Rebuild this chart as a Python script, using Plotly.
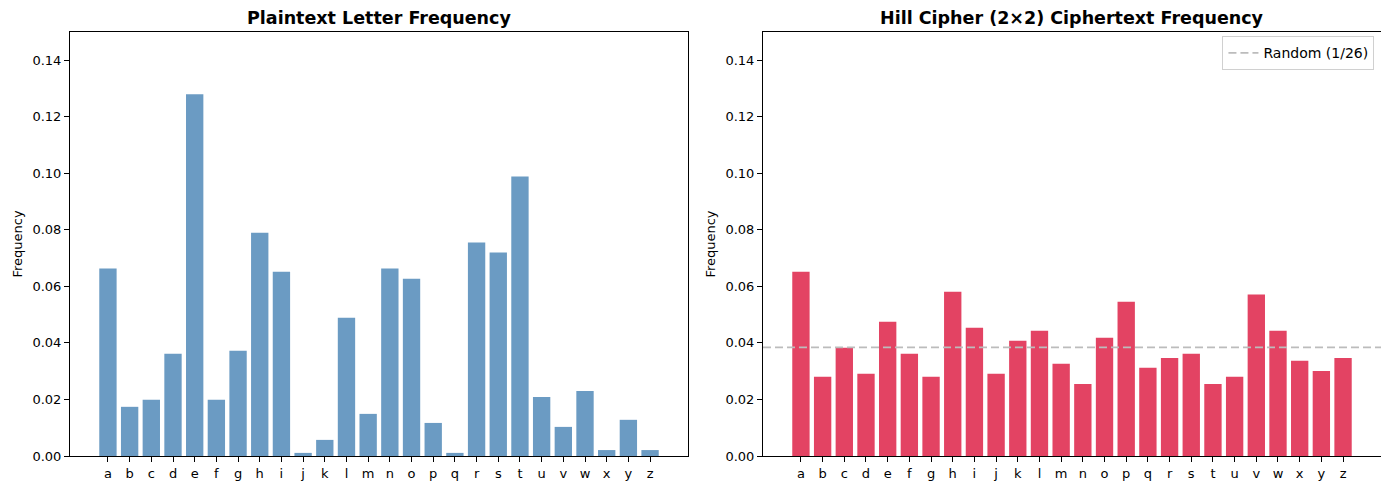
import plotly.graph_objects as go
from plotly.subplots import make_subplots

letters = list("abcdefghijklmnopqrstuvwxyz")
plain_freq = [0.0663, 0.0174, 0.0199, 0.0362, 0.1280, 0.0199, 0.0372, 0.0790, 0.0652,
              0.0011, 0.0057, 0.0489, 0.0149, 0.0663, 0.0627, 0.0117, 0.0011, 0.0755,
              0.0720, 0.0989, 0.0209, 0.0103, 0.0230, 0.0021, 0.0128, 0.0021]
cipher_freq = [0.0652, 0.0280, 0.0383, 0.0291, 0.0475, 0.0362, 0.0280, 0.0581, 0.0454,
               0.0291, 0.0408, 0.0443, 0.0326, 0.0255, 0.0418, 0.0546, 0.0312, 0.0347,
               0.0362, 0.0255, 0.0280, 0.0571, 0.0443, 0.0337, 0.0301, 0.0347]
random_level = 1 / 26
y_ticks = [0.00, 0.02, 0.04, 0.06, 0.08, 0.10, 0.12, 0.14]

FONT = "DejaVu Sans"
fig = make_subplots(rows=1, cols=2, horizontal_spacing=0.0572)

xs = list(range(len(letters)))
fig.add_trace(go.Bar(x=xs, y=plain_freq, width=0.8, marker_color="#6b9bc3",
                     marker_line_width=0, showlegend=False), row=1, col=1)
fig.add_trace(go.Bar(x=xs, y=cipher_freq, width=0.8, marker_color="#e34363",
                     marker_line_width=0, showlegend=False), row=1, col=2)
fig.add_trace(go.Scatter(x=[-1.75, 26.75], y=[random_level, random_level], mode="lines",
                         line=dict(color="#bcbcbc", width=1.7, dash="8px,4px"),
                         name="Random (1/26)", showlegend=True), row=1, col=2)

axis_common = dict(showline=True, linecolor="black", linewidth=1, mirror=True,
                   ticks="outside", ticklen=5, tickcolor="black", showgrid=False,
                   zeroline=False, tickfont=dict(family=FONT, size=13, color="black"))
for c in (1, 2):
    fig.update_xaxes(range=[-1.75, 26.75], tickmode="array", tickvals=xs, ticktext=letters,
                     row=1, col=c, **axis_common)
    fig.update_yaxes(range=[0, 0.15], tickmode="array", tickvals=y_ticks,
                     ticktext=[f"{v:.2f}" for v in y_ticks],
                     title=dict(text="Frequency", font=dict(family=FONT, size=13, color="black"),
                                standoff=6),
                     row=1, col=c, **axis_common)

fig.add_annotation(text="<b>Plaintext Letter Frequency</b>", xref="x domain", yref="paper",
                   x=0.5, y=1, yshift=2, yanchor="bottom", showarrow=False,
                   font=dict(family=FONT, size=17.5, color="black"))
fig.add_annotation(text="<b>Hill Cipher (2×2) Ciphertext Frequency</b>", xref="x2 domain",
                   yref="paper", x=0.5, y=1, yshift=2, yanchor="bottom", showarrow=False,
                   font=dict(family=FONT, size=17.5, color="black"))

fig.update_layout(
    width=1381, height=482,
    margin=dict(l=62, r=8, t=24, b=34),
    paper_bgcolor="white", plot_bgcolor="white",
    font=dict(family=FONT, size=13, color="black"),
    bargap=0.2,
    legend=dict(x=0.995, y=0.99, xanchor="right", yanchor="top",
                bgcolor="rgba(255,255,255,0.8)", bordercolor="#d0d0d0", borderwidth=1,
                font=dict(family=FONT, size=14, color="black")),
)

fig.write_html("out.html")
